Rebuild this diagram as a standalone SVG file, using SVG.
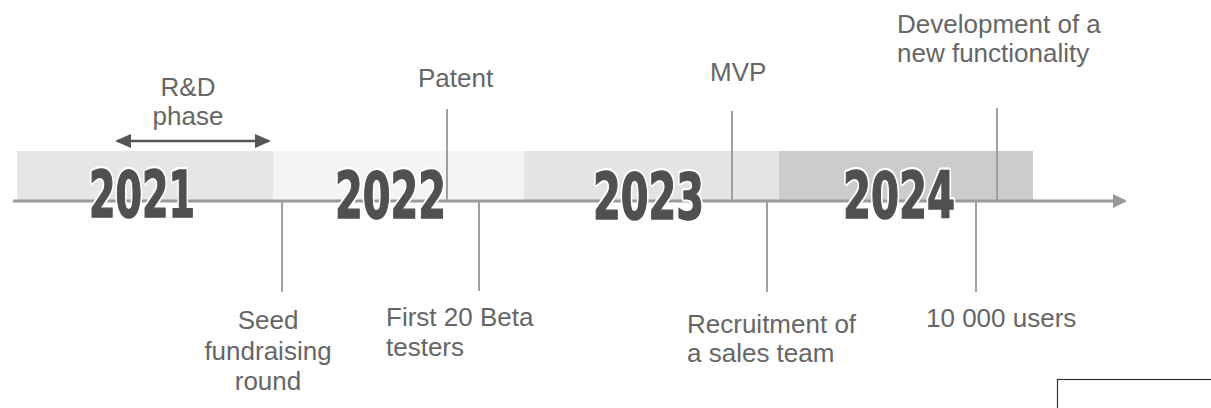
<svg xmlns="http://www.w3.org/2000/svg" width="1211" height="408" viewBox="0 0 1211 408">
  <defs>
    <style>
      .lbl { font-family: "Liberation Sans", Arial, sans-serif; font-size: 26px; fill: #666666; }
      .mid { text-anchor: middle; }
      .year { font-family: "Liberation Sans Narrow", "DejaVu Sans Condensed", "Liberation Sans", sans-serif; font-weight: bold; font-size: 64px; }
      .halo { fill: #ffffff; stroke: #ffffff; stroke-width: 6; stroke-linejoin: round; }
      .ink { fill: #505050; stroke: #505050; stroke-width: 1.4; stroke-linejoin: miter; }
      .tick { stroke: #a0a0a0; stroke-width: 2; fill: none; }
      .axis { stroke: #999999; stroke-width: 3; fill: none; }
      .span { stroke: #555555; stroke-width: 2.5; fill: none; }
    </style>
    <marker id="axisHead" viewBox="0 0 14 14" refX="12" refY="7" markerUnits="userSpaceOnUse" markerWidth="16" markerHeight="14" orient="auto">
      <path d="M0,0 L14,7 L0,14 Z" fill="#999999"/>
    </marker>
    <marker id="spanHead" viewBox="0 0 16 14" refX="14" refY="7" markerUnits="userSpaceOnUse" markerWidth="16" markerHeight="14" orient="auto-start-reverse">
      <path d="M0,0 L16,7 L0,14 Z" fill="#555555"/>
    </marker>
  </defs>

  <rect width="1211" height="408" fill="#ffffff"/>

  <!-- yearly bands -->
  <g id="bands">
    <rect x="17" y="151" width="256" height="49" fill="#e6e6e6"/>
    <rect x="273" y="151" width="251" height="49" fill="#f4f4f4"/>
    <rect x="524" y="151" width="255" height="49" fill="#e4e4e4"/>
    <rect x="779" y="151" width="254" height="49" fill="#cccccc"/>
  </g>

  <!-- timeline axis, milestone ticks and R&D span -->
  <g id="connectors">
    <line class="axis" x1="13" y1="201" x2="1125" y2="201" marker-end="url(#axisHead)"/>
    <line class="tick" x1="282" y1="201" x2="282" y2="292"/>
    <line class="tick" x1="447" y1="109" x2="447" y2="200"/>
    <line class="tick" x1="479" y1="201" x2="479" y2="291"/>
    <line class="tick" x1="732" y1="111" x2="732" y2="200"/>
    <line class="tick" x1="767" y1="201" x2="767" y2="292"/>
    <line class="tick" x1="976" y1="201" x2="976" y2="292"/>
    <line class="tick" x1="997" y1="108" x2="997" y2="200"/>
    <line class="span" x1="117" y1="141" x2="269" y2="141" marker-start="url(#spanHead)" marker-end="url(#spanHead)"/>
  </g>

  <!-- year labels -->
  <g id="year-2021">
    <text class="year halo" x="89" y="217" textLength="106" lengthAdjust="spacingAndGlyphs">2021</text>
    <text class="year ink" x="89" y="217" textLength="106" lengthAdjust="spacingAndGlyphs">2021</text>
  </g>
  <g id="year-2022">
    <text class="year halo" x="335" y="218" textLength="111" lengthAdjust="spacingAndGlyphs">2022</text>
    <text class="year ink" x="335" y="218" textLength="111" lengthAdjust="spacingAndGlyphs">2022</text>
  </g>
  <g id="year-2023">
    <text class="year halo" x="593" y="219" textLength="111" lengthAdjust="spacingAndGlyphs">2023</text>
    <text class="year ink" x="593" y="219" textLength="111" lengthAdjust="spacingAndGlyphs">2023</text>
  </g>
  <g id="year-2024">
    <text class="year halo" x="843" y="218" textLength="112" lengthAdjust="spacingAndGlyphs">2024</text>
    <text class="year ink" x="843" y="218" textLength="112" lengthAdjust="spacingAndGlyphs">2024</text>
  </g>

  <!-- milestones -->
  <g id="rnd-phase">
    <text class="lbl mid" x="188" y="96">R&amp;D</text>
    <text class="lbl mid" x="188" y="125">phase</text>
  </g>
  <g id="patent">
    <text class="lbl" x="418" y="87">Patent</text>
  </g>
  <g id="mvp">
    <text class="lbl" x="710" y="81">MVP</text>
  </g>
  <g id="new-functionality">
    <text class="lbl" x="897" y="33">Development of a</text>
    <text class="lbl" x="897" y="62">new functionality</text>
  </g>
  <g id="seed-round">
    <text class="lbl mid" x="268" y="329">Seed</text>
    <text class="lbl mid" x="268" y="360">fundraising</text>
    <text class="lbl mid" x="268" y="390">round</text>
  </g>
  <g id="beta-testers">
    <text class="lbl" x="386" y="326">First 20 Beta</text>
    <text class="lbl" x="386" y="356">testers</text>
  </g>
  <g id="sales-team">
    <text class="lbl" x="687" y="333">Recruitment of</text>
    <text class="lbl" x="687" y="362">a sales team</text>
  </g>
  <g id="users">
    <text class="lbl" x="926" y="327">10 000 users</text>
  </g>

  <!-- empty frame in the lower right corner -->
  <rect x="1057.5" y="379.5" width="160" height="40" fill="#ffffff" stroke="#333333" stroke-width="1.2"/>
</svg>
